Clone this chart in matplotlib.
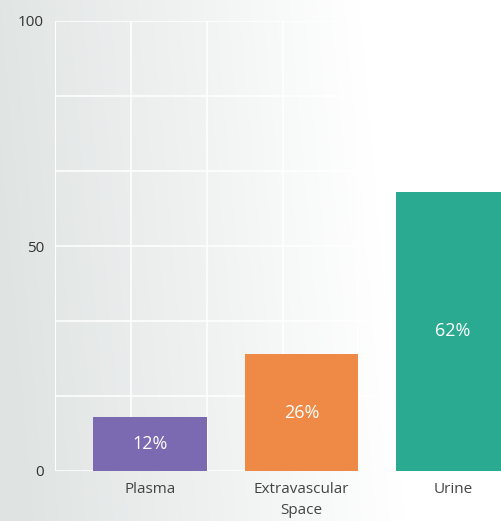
import numpy as np
import matplotlib
matplotlib.use("Agg")
import matplotlib.pyplot as plt

# ---- data ---------------------------------------------------------------
categories = ["Plasma", "Extravascular\nSpace", "Urine"]
values = [12, 26, 62]
bar_labels = ["12%", "26%", "62%"]
colors = ["#7b69b1", "#ee8a45", "#2aaa90"]
ytick_vals = [0, 50, 100]

plt.rcParams["font.family"] = ["Open Sans", "DejaVu Sans"]

fig = plt.figure(figsize=(5.02, 5.21), dpi=100)

# scanned-page gradient background: grey on the left, white to the right
bg = fig.add_axes((0, 0, 1, 1), zorder=-1)
gx = np.linspace(0, 1, 300)
gy = np.linspace(0, 1, 300)
GX, GY = np.meshgrid(gx, gy)
t = np.clip(GX / 0.76 + 0.12 * (1 - GY) - 0.06, 0, 1)
base = np.array([0.875, 0.892, 0.888])
img = base[None, None, :] * (1 - t[..., None]) + t[..., None]
bg.imshow(img, aspect="auto", extent=(0, 1, 0, 1), origin="upper")
bg.axis("off")

ax = fig.add_axes((55 / 502, 50 / 521, 447 / 502, 450 / 521))
ax.patch.set_alpha(0)

x = np.arange(len(categories))
bars = ax.bar(x, values, width=0.75, color=colors, zorder=3)
for b, lab in zip(bars, bar_labels):
    ax.text(b.get_x() + b.get_width() / 2, b.get_height() / 2, lab,
            ha="center", va="center", color="white", fontsize=13, zorder=4)

ax.set_xlim(-0.627, 2.323)
ax.set_ylim(0, 100)

# grid: six horizontal bands, vertical lines every half category
for yy in np.linspace(0, 100, 7):
    ax.axhline(yy, color="white", lw=1.1, zorder=1)
for xx in np.arange(-0.125, 2.4, 0.5):
    ax.axvline(xx, color="white", lw=1.1, zorder=1)
ax.axvline(-0.627, color="white", lw=1.5, zorder=1)

ax.set_yticks(ytick_vals)
ax.set_yticklabels([str(v) for v in ytick_vals], fontsize=11, color="#333333")
ax.set_xticks(x)
ax.set_xticklabels(categories, fontsize=11, color="#444444", linespacing=1.5)
ax.tick_params(length=0)
ax.tick_params(axis="y", pad=8)
ax.tick_params(axis="x", pad=8)
for s in ax.spines.values():
    s.set_visible(False)

fig.savefig("out.png", dpi=100)
